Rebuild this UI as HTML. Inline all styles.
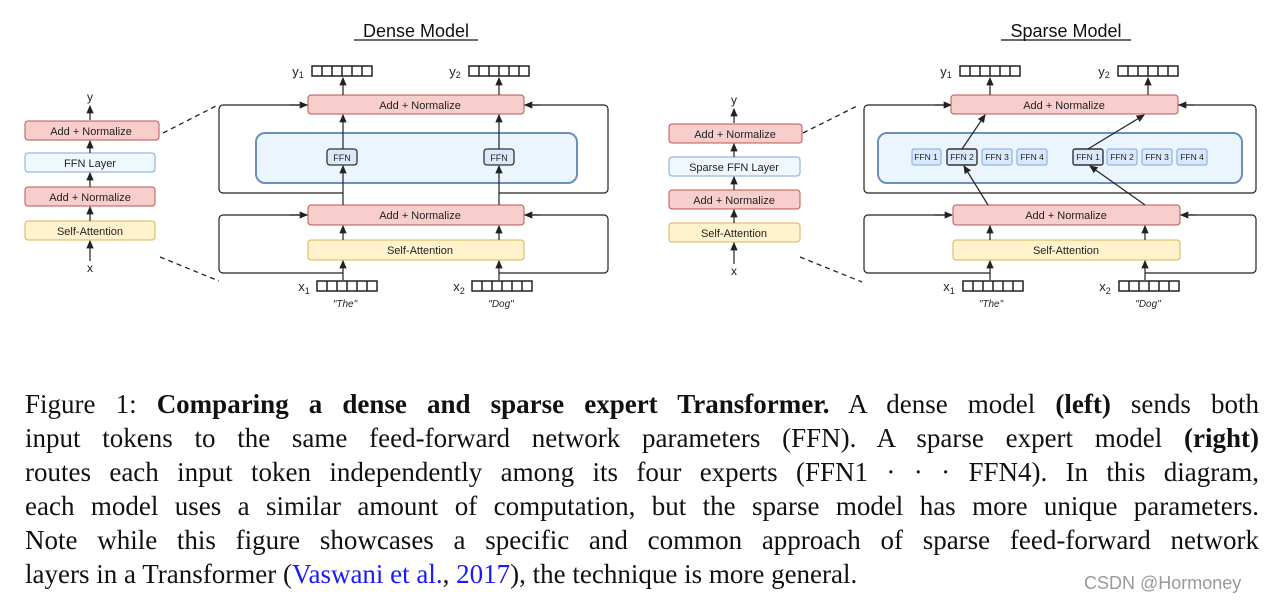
<!DOCTYPE html>
<html><head><meta charset="utf-8"><style>
body{margin:0;width:1280px;height:609px;background:#fff;position:relative;overflow:hidden}
svg{position:absolute;left:0;top:0}
.cap{position:absolute;left:25px;width:1234px;font-family:"Liberation Serif",serif;font-size:27px;color:#111;text-align:justify;text-align-last:justify;line-height:34px;white-space:normal}
.blue{color:#1a1aff}
.wm{position:absolute;left:1084px;top:573px;font-family:"Liberation Sans",sans-serif;font-size:18px;color:#999;white-space:nowrap}
</style></head><body>
<svg width="1280" height="340" viewBox="0 0 1280 340" font-family="Liberation Sans, sans-serif">
<defs>
<marker id="a" viewBox="0 0 8 8" refX="7" refY="4" markerWidth="7" markerHeight="7" orient="auto"><path d="M0,0.5 L8,4 L0,7.5 z" fill="#222"/></marker>
<g id="vec"><rect x="0" y="0" width="60" height="10" fill="#fff" stroke="#222" stroke-width="1.5"/><path d="M10,0v10M20,0v10M30,0v10M40,0v10M50,0v10" stroke="#222" stroke-width="1.5"/></g>
</defs>
<g font-size="11" text-anchor="middle" fill="#222">
<text x="416" y="37" font-size="18" fill="#111">Dense Model</text>
<line x1="354" y1="40" x2="478" y2="40" stroke="#111" stroke-width="1.2"/>
<rect x="25" y="121" width="134" height="19" rx="3" fill="#f8cecc" stroke="#b85450"/><text x="91" y="135">Add + Normalize</text>
<rect x="25" y="153" width="130" height="19" rx="3" fill="#f0f8ff" stroke="#7ea6e0"/><text x="90" y="167">FFN Layer</text>
<rect x="25" y="187" width="130" height="19" rx="3" fill="#f8cecc" stroke="#b85450"/><text x="90" y="201">Add + Normalize</text>
<rect x="25" y="221" width="130" height="19" rx="3" fill="#fff2cc" stroke="#d6b656"/><text x="90" y="235">Self-Attention</text>
<text x="90" y="101" font-size="12">y</text><text x="90" y="272" font-size="12">x</text>
<g stroke="#222" stroke-width="1.2" marker-end="url(#a)"><line x1="90" y1="120" x2="90" y2="106"/><line x1="90" y1="153" x2="90" y2="141"/><line x1="90" y1="187" x2="90" y2="173"/><line x1="90" y1="221" x2="90" y2="207"/><line x1="90" y1="261" x2="90" y2="241"/></g>
<g stroke="#222" stroke-width="1.3" stroke-dasharray="5,4"><line x1="163" y1="133" x2="216" y2="106"/><line x1="160" y1="257" x2="219" y2="281"/></g>
<path d="M308,105 H223 a4,4 0 0 0 -4,4 V189 a4,4 0 0 0 4,4 H343 M499,193 H604 a4,4 0 0 0 4,-4 V109 a4,4 0 0 0 -4,-4 H524" fill="none" stroke="#222" stroke-width="1.2"/>
<path d="M308,215 H223 a4,4 0 0 0 -4,4 V269 a4,4 0 0 0 4,4 H343 M499,273 H604 a4,4 0 0 0 4,-4 V219 a4,4 0 0 0 -4,-4 H524" fill="none" stroke="#222" stroke-width="1.2"/>
<g stroke="#222" stroke-width="1.2" marker-end="url(#a)"><line x1="290" y1="105" x2="307" y2="105"/><line x1="540" y1="105" x2="525" y2="105"/><line x1="290" y1="215" x2="307" y2="215"/><line x1="540" y1="215" x2="525" y2="215"/></g>
<rect x="256" y="133" width="321" height="50" rx="9" fill="#eaf5fd" stroke="#6c8ebf" stroke-width="2"/>
<rect x="308" y="95" width="216" height="19" rx="3" fill="#f8cecc" stroke="#b85450"/><text x="420" y="109">Add + Normalize</text>
<rect x="308" y="205" width="216" height="20" rx="3" fill="#f8cecc" stroke="#b85450"/><text x="420" y="219">Add + Normalize</text>
<rect x="308" y="240" width="216" height="20" rx="3" fill="#fff2cc" stroke="#d6b656"/><text x="420" y="254">Self-Attention</text>
<rect x="327" y="149" width="30" height="16" rx="3" fill="#dae8fc" stroke="#333" stroke-width="1.3"/><text x="342" y="161" font-size="9">FFN</text>
<rect x="484" y="149" width="30" height="16" rx="3" fill="#dae8fc" stroke="#333" stroke-width="1.3"/><text x="499" y="161" font-size="9">FFN</text>
<g stroke="#222" stroke-width="1.2" marker-end="url(#a)">
<line x1="343" y1="95" x2="343" y2="78"/><line x1="499" y1="95" x2="499" y2="78"/>
<line x1="343" y1="149" x2="343" y2="115"/><line x1="499" y1="149" x2="499" y2="115"/>
<line x1="343" y1="205" x2="343" y2="166"/><line x1="499" y1="205" x2="499" y2="166"/>
<line x1="343" y1="240" x2="343" y2="226"/><line x1="499" y1="240" x2="499" y2="226"/>
<line x1="343" y1="280" x2="343" y2="261"/><line x1="499" y1="280" x2="499" y2="261"/></g>
<use href="#vec" x="312" y="66"/><use href="#vec" x="469" y="66"/>
<use href="#vec" x="317" y="281"/><use href="#vec" x="472" y="281"/>
<text x="298" y="76" font-size="13">y<tspan font-size="9" dy="2">1</tspan></text>
<text x="455" y="76" font-size="13">y<tspan font-size="9" dy="2">2</tspan></text>
<text x="304" y="291" font-size="13">x<tspan font-size="9" dy="3">1</tspan></text>
<text x="459" y="291" font-size="13">x<tspan font-size="9" dy="3">2</tspan></text>
<text x="345" y="307" font-size="10" font-style="italic">"The"</text>
<text x="501" y="307" font-size="10" font-style="italic">"Dog"</text>

<text x="1066" y="37" font-size="18" fill="#111">Sparse Model</text>
<line x1="1001" y1="40" x2="1131" y2="40" stroke="#111" stroke-width="1.2"/>
<rect x="669" y="124" width="133" height="19" rx="3" fill="#f8cecc" stroke="#b85450"/><text x="735" y="138">Add + Normalize</text>
<rect x="669" y="157" width="131" height="19" rx="3" fill="#f0f8ff" stroke="#7ea6e0"/><text x="734" y="171">Sparse FFN Layer</text>
<rect x="669" y="190" width="131" height="19" rx="3" fill="#f8cecc" stroke="#b85450"/><text x="734" y="204">Add + Normalize</text>
<rect x="669" y="223" width="131" height="19" rx="3" fill="#fff2cc" stroke="#d6b656"/><text x="734" y="237">Self-Attention</text>
<text x="734" y="104" font-size="12">y</text><text x="734" y="275" font-size="12">x</text>
<g stroke="#222" stroke-width="1.2" marker-end="url(#a)"><line x1="734" y1="123" x2="734" y2="109"/><line x1="734" y1="157" x2="734" y2="144"/><line x1="734" y1="190" x2="734" y2="177"/><line x1="734" y1="223" x2="734" y2="210"/><line x1="734" y1="264" x2="734" y2="243"/></g>
<g stroke="#222" stroke-width="1.3" stroke-dasharray="5,4"><line x1="803" y1="133" x2="857" y2="106"/><line x1="800" y1="257" x2="862" y2="282"/></g>
<path d="M952,105 H868 a4,4 0 0 0 -4,4 V189 a4,4 0 0 0 4,4 H1252 a4,4 0 0 0 4,-4 V109 a4,4 0 0 0 -4,-4 H1178" fill="none" stroke="#222" stroke-width="1.2"/>
<path d="M952,215 H868 a4,4 0 0 0 -4,4 V269 a4,4 0 0 0 4,4 H990 M1145,273 H1252 a4,4 0 0 0 4,-4 V219 a4,4 0 0 0 -4,-4 H1180" fill="none" stroke="#222" stroke-width="1.2"/>
<g stroke="#222" stroke-width="1.2" marker-end="url(#a)"><line x1="935" y1="105" x2="951" y2="105"/><line x1="1194" y1="105" x2="1179" y2="105"/><line x1="935" y1="215" x2="952" y2="215"/><line x1="1196" y1="215" x2="1181" y2="215"/></g>
<rect x="878" y="133" width="364" height="50" rx="9" fill="#eaf5fd" stroke="#6c8ebf" stroke-width="2"/>
<rect x="951" y="95" width="227" height="19" rx="3" fill="#f8cecc" stroke="#b85450"/><text x="1064" y="109">Add + Normalize</text>
<rect x="953" y="205" width="227" height="20" rx="3" fill="#f8cecc" stroke="#b85450"/><text x="1066" y="219">Add + Normalize</text>
<rect x="953" y="240" width="227" height="20" rx="3" fill="#fff2cc" stroke="#d6b656"/><text x="1066" y="254">Self-Attention</text>
<g font-size="8.5">
<rect x="912" y="149" width="29" height="16" rx="2" fill="#dae8fc" stroke="#7ea6e0"/><text x="926" y="160">FFN 1</text>
<rect x="947" y="149" width="30" height="16" rx="2" fill="#dae8fc" stroke="#333" stroke-width="1.4"/><text x="962" y="160">FFN 2</text>
<rect x="982" y="149" width="30" height="16" rx="2" fill="#dae8fc" stroke="#7ea6e0"/><text x="997" y="160">FFN 3</text>
<rect x="1017" y="149" width="30" height="16" rx="2" fill="#dae8fc" stroke="#7ea6e0"/><text x="1032" y="160">FFN 4</text>
<rect x="1073" y="149" width="30" height="16" rx="2" fill="#dae8fc" stroke="#333" stroke-width="1.4"/><text x="1088" y="160">FFN 1</text>
<rect x="1107" y="149" width="30" height="16" rx="2" fill="#dae8fc" stroke="#7ea6e0"/><text x="1122" y="160">FFN 2</text>
<rect x="1142" y="149" width="30" height="16" rx="2" fill="#dae8fc" stroke="#7ea6e0"/><text x="1157" y="160">FFN 3</text>
<rect x="1177" y="149" width="30" height="16" rx="2" fill="#dae8fc" stroke="#7ea6e0"/><text x="1192" y="160">FFN 4</text>
</g>
<g stroke="#222" stroke-width="1.2" marker-end="url(#a)">
<line x1="990" y1="95" x2="990" y2="78"/><line x1="1148" y1="95" x2="1148" y2="78"/>
<line x1="962" y1="149" x2="985" y2="115"/><line x1="1088" y1="149" x2="1144" y2="115"/>
<line x1="988" y1="205" x2="964" y2="166"/><line x1="1145" y1="205" x2="1090" y2="166"/>
<line x1="990" y1="240" x2="990" y2="226"/><line x1="1145" y1="240" x2="1145" y2="226"/>
<line x1="990" y1="280" x2="990" y2="261"/><line x1="1145" y1="280" x2="1145" y2="261"/></g>
<use href="#vec" x="960" y="66"/><use href="#vec" x="1118" y="66"/>
<use href="#vec" x="963" y="281"/><use href="#vec" x="1119" y="281"/>
<text x="946" y="76" font-size="13">y<tspan font-size="9" dy="2">1</tspan></text>
<text x="1104" y="76" font-size="13">y<tspan font-size="9" dy="2">2</tspan></text>
<text x="949" y="291" font-size="13">x<tspan font-size="9" dy="3">1</tspan></text>
<text x="1105" y="291" font-size="13">x<tspan font-size="9" dy="3">2</tspan></text>
<text x="991" y="307" font-size="10" font-style="italic">"The"</text>
<text x="1148" y="307" font-size="10" font-style="italic">"Dog"</text>
</g>
</svg>
<div class="cap" style="top:387px">Figure 1: <b>Comparing a dense and sparse expert Transformer.</b> A dense model <b>(left)</b> sends both</div>
<div class="cap" style="top:421px">input tokens to the same feed-forward network parameters (FFN). A sparse expert model <b>(right)</b></div>
<div class="cap" style="top:455px">routes each input token independently among its four experts (FFN1 · · · FFN4). In this diagram,</div>
<div class="cap" style="top:489px">each model uses a similar amount of computation, but the sparse model has more unique parameters.</div>
<div class="cap" style="top:523px">Note while this figure showcases a specific and common approach of sparse feed-forward network</div>
<div class="cap" style="top:557px;text-align-last:left">layers in a Transformer (<span class="blue">Vaswani et al.</span>, <span class="blue">2017</span>), the technique is more general.</div>
<div class="wm">CSDN @Hormoney</div>
</body></html>
